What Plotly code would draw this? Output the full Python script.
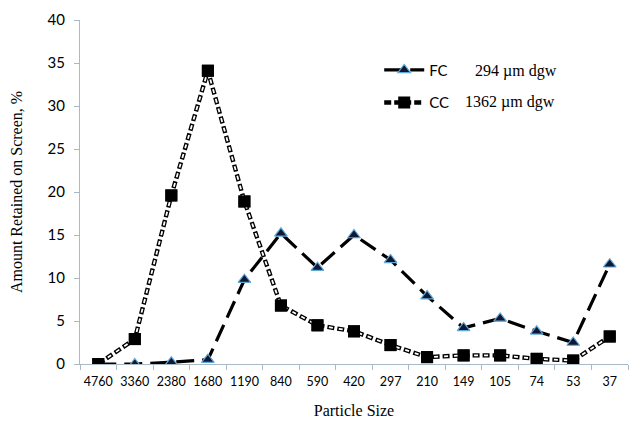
import plotly.graph_objects as go

sizes = ["4760", "3360", "2380", "1680", "1190", "840", "590", "420", "297", "210", "149", "105", "74", "53", "37"]
fc_values = [0.0, 0.0, 0.2, 0.5, 9.8, 15.2, 11.2, 15.0, 12.1, 7.9, 4.2, 5.3, 3.8, 2.5, 11.6]
cc_values = [0.0, 2.9, 19.6, 34.1, 18.9, 6.8, 4.5, 3.8, 2.2, 0.8, 1.0, 1.0, 0.6, 0.4, 3.2]
fc_label = "FC"
cc_label = "CC"
fc_note = "294 µm dgw"
cc_note = "1362 µm dgw"

sans = "Lato"
serif = "Liberation Serif"
axis_col = "#A9BAC6"

fig = go.Figure()

# FC series
fig.add_trace(go.Scatter(
    x=sizes, y=fc_values, name=fc_label, mode="lines+markers",
    line=dict(color="black", width=3.2, dash="18px,8px"),
    marker=dict(symbol="triangle-up", size=11, color="#111833",
                line=dict(color="#5FA8D8", width=1.2)),
    legendgroup="fc",
))

# CC series: black outline dash, white inner dash, markers on top
fig.add_trace(go.Scatter(
    x=sizes, y=cc_values, name=cc_label, mode="lines+markers",
    line=dict(color="black", width=4.4, dash="7px,3px"),
    marker=dict(symbol="square", size=12, color="black"),
    legendgroup="cc",
))
fig.add_trace(go.Scatter(
    x=sizes, y=cc_values, mode="lines", showlegend=False, hoverinfo="skip",
    line=dict(color="white", width=1.8, dash="0px,1.5px,4px,4.5px"),
    legendgroup="cc",
))
fig.add_trace(go.Scatter(
    x=sizes, y=cc_values, mode="markers", showlegend=False, hoverinfo="skip",
    marker=dict(symbol="square", size=12, color="black"),
    legendgroup="cc",
))

# page body adds 8px offset; margins compensate so the plot area sits at x 80-628, y 20-364
fig.update_layout(
    width=640, height=426,
    margin=dict(l=72, r=20, t=12, b=70),
    paper_bgcolor="white", plot_bgcolor="white",
    showlegend=True,
    legend=dict(x=0.546, y=0.902, xanchor="left", yanchor="top",
                font=dict(family=sans, size=15, color="black"),
                bgcolor="rgba(0,0,0,0)", tracegroupgap=10,
                itemwidth=40),
    xaxis=dict(
        type="category", showline=True, linecolor=axis_col, linewidth=1.2,
        ticks="outside", tickson="boundaries", ticklen=5, tickcolor=axis_col,
        tickfont=dict(family=sans, size=12.5, color="black"), tickangle=0,
        ticklabelstandoff=6,
        showgrid=False, zeroline=False, automargin=False,
        range=[-0.5, 14.5],
        title=dict(text="Particle Size", font=dict(family=serif, size=16, color="black"), standoff=16),
    ),
    yaxis=dict(
        range=[0, 40], dtick=5, showline=True, linecolor=axis_col, linewidth=1.2,
        ticks="outside", ticklen=5, tickcolor=axis_col,
        tickfont=dict(family=sans, size=15, color="black"),
        ticklabelstandoff=6,
        showgrid=False, zeroline=False, automargin=False,
        title=dict(text="Amount Retained on Screen, %", font=dict(family=serif, size=16, color="black"), standoff=20),
    ),
    annotations=[
        dict(text=fc_note, xref="paper", yref="paper", x=(473 - 80) / 548, y=(364 - 71) / 344,
             xanchor="left", yanchor="middle", showarrow=False,
             font=dict(family=serif, size=16, color="black")),
        dict(text=cc_note, xref="paper", yref="paper", x=(463 - 80) / 548, y=(364 - 102) / 344,
             xanchor="left", yanchor="middle", showarrow=False,
             font=dict(family=serif, size=16, color="black")),
    ],
)

fig.write_html("out.html")
